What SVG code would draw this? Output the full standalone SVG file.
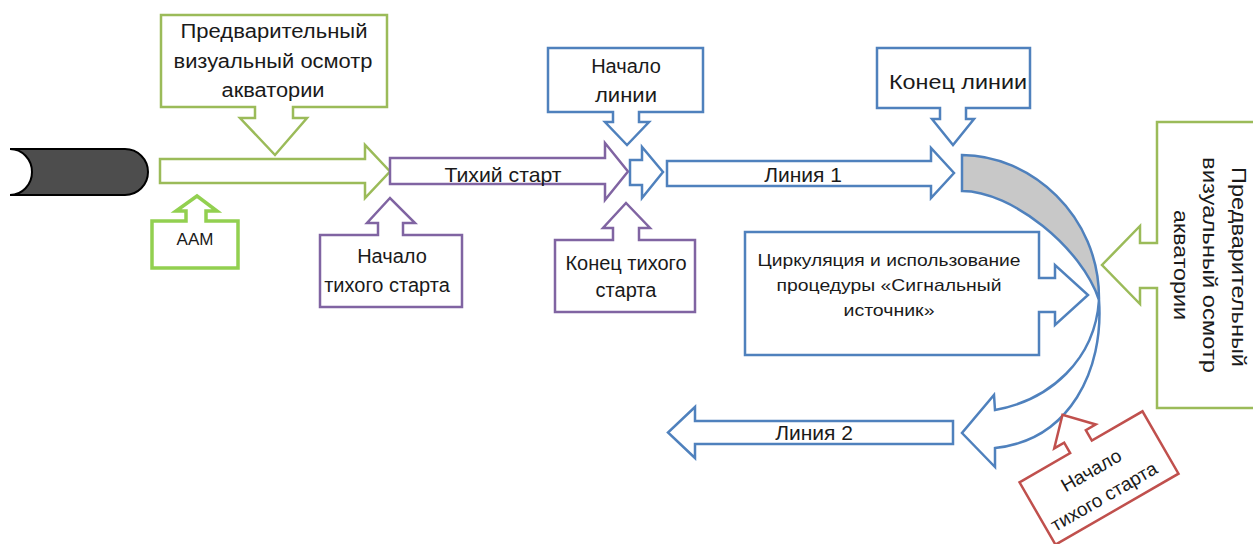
<svg xmlns="http://www.w3.org/2000/svg" width="1253" height="544" viewBox="0 0 1253 544">
<style>
.g{fill:#fff;stroke:#9bbb59;stroke-width:2.5}
.lime{fill:#fff;stroke:#92d050;stroke-width:3.5}
.p{fill:#fff;stroke:#8064a2;stroke-width:2.5}
.b{fill:#fff;stroke:#4f81bd;stroke-width:2.5}
.r{fill:#fff;stroke:#c0504d;stroke-width:2.5}
.shade{fill:#c8c8c8;stroke:#4f81bd;stroke-width:2.5}
text{font-family:"Liberation Sans",Arial,sans-serif;fill:#1a1a1a;text-anchor:middle;font-size:20px}
.s17{font-size:17px}
.s21{font-size:21px}
.s19{font-size:19px}
</style>
<rect width="1253" height="544" fill="#fff"/>

<g id="start-cylinder">
  <path d="M10,149 H125 A23,23 0 0 1 125,195 H10 Z" fill="#4d4d4d" stroke="none"/>
  <path d="M10,149 H125 A23,23 0 0 1 125,195 H10" fill="none" stroke="#000" stroke-width="2"/>
  <path d="M10,149 A22,23 0 0 1 10,195 Z" fill="#fff" stroke="none"/>
  <path d="M10,149 A22,23 0 0 1 10,195" fill="none" stroke="#000" stroke-width="2"/>
</g>

<g id="connectors">
  <path class="g" d="M160,159 H365 V145 L390,171.5 L365,198 V183 H160 Z"/>
  <path class="p" d="M390,158 H605 V143 L628,171.5 L605,200 V184 H390 Z"/>
  <text class="s21" x="503" y="182" textLength="117" lengthAdjust="spacingAndGlyphs">Тихий старт</text>
  <path class="b" d="M630,160 H642 V147 L663,172 L642,198 V185 H630 Z"/>
  <path class="b" d="M667,161 H931 V148 L954,173 L931,198 V186 H667 Z"/>
  <text class="s21" x="803" y="182">Линия 1</text>
  <path class="shade" d="M962,155 C1030,155 1100,215 1099,300 C1082,248 1012,191 962,191 Z"/>
  <path class="b" d="M1099,300 C1104,370 1070,440 995,448 L995,467 L962,433 L994,395 L995,410 C1050,400 1095,360 1099,300 Z"/>
  <path class="b" d="M953,421 H695 V407 L668,432.5 L695,458 V444 H953 Z"/>
  <text class="s21" x="814" y="440">Линия 2</text>
</g>

<g id="visual-inspection-top">
  <path class="g" d="M161,15 H387 V107 H293 V118 H307 L275,155 L240,118 H255 V107 H161 Z"/>
  <text x="274" y="38" textLength="187" lengthAdjust="spacingAndGlyphs">Предварительный</text>
  <text x="273" y="68" textLength="199" lengthAdjust="spacingAndGlyphs">визуальный осмотр</text>
  <text x="273" y="97" textLength="103" lengthAdjust="spacingAndGlyphs">акватории</text>
</g>

<g id="aam">
  <path class="lime" d="M152,221 H186 V211 H176 L197,196 L217,211 H206 V221 H238 V268 H152 Z"/>
  <text class="s17" x="195" y="245">ААМ</text>
</g>

<g id="quiet-start-begin">
  <path class="p" d="M320,235 H378 V223 H367 L390,198 L415,223 H403 V235 H462 V307 H320 Z"/>
  <text x="392" y="263">Начало</text>
  <text x="387" y="292">тихого старта</text>
</g>

<g id="quiet-start-end">
  <path class="p" d="M555,240 H613 V228 H603 L626,203 L650,228 H639 V240 H695 V312 H555 Z"/>
  <text x="626" y="270">Конец тихого</text>
  <text x="626" y="297">старта</text>
</g>

<g id="line-start">
  <path class="b" d="M548,48 H703 V112 H639 V122 H649 L627,145 L605,122 H613 V112 H548 Z"/>
  <text x="626" y="73">Начало</text>
  <text x="626" y="102" textLength="62" lengthAdjust="spacingAndGlyphs">линии</text>
</g>

<g id="line-end">
  <path class="b" d="M877,48 H1030 V108 H966 V119 H974 L953,145 L932,119 H940 V108 H877 Z"/>
  <text class="s21" x="958" y="89" textLength="138" lengthAdjust="spacingAndGlyphs">Конец линии</text>
</g>

<g id="circulation">
  <path class="b" d="M745,232 H1039 V278 H1055 V265 L1088,295 L1055,325 V312 H1039 V355 H745 Z"/>
  <text class="s17" x="889" y="266" textLength="263" lengthAdjust="spacingAndGlyphs">Циркуляция и использование</text>
  <text class="s17" x="889" y="291" textLength="225" lengthAdjust="spacingAndGlyphs">процедуры «Сигнальный</text>
  <text class="s17" x="889" y="316" textLength="91" lengthAdjust="spacingAndGlyphs">источник»</text>
</g>

<g id="visual-inspection-right">
  <path class="g" d="M1256,122 H1157 V243 H1140 V226 L1102,265 L1140,304 V288 H1157 V408 H1256 Z"/>
  <text class="s21" transform="translate(1232,267) rotate(90)" textLength="200" lengthAdjust="spacingAndGlyphs">Предварительный</text>
  <text class="s21" transform="translate(1203,265) rotate(90)" textLength="216" lengthAdjust="spacingAndGlyphs">визуальный осмотр</text>
  <text class="s21" transform="translate(1174,265) rotate(90)" textLength="110" lengthAdjust="spacingAndGlyphs">акватории</text>
</g>

<g id="quiet-start-begin-2" transform="translate(1099,478) rotate(-30)">
  <path class="r" d="M-71,-36 H-12.5 V-48 H-24 L0,-73 L24,-48 H12.5 V-36 H71 V36 H-71 Z"/>
  <text class="s19" x="-3" y="-4">Начало</text>
  <text class="s19" x="-5" y="25">тихого старта</text>
</g>
</svg>
